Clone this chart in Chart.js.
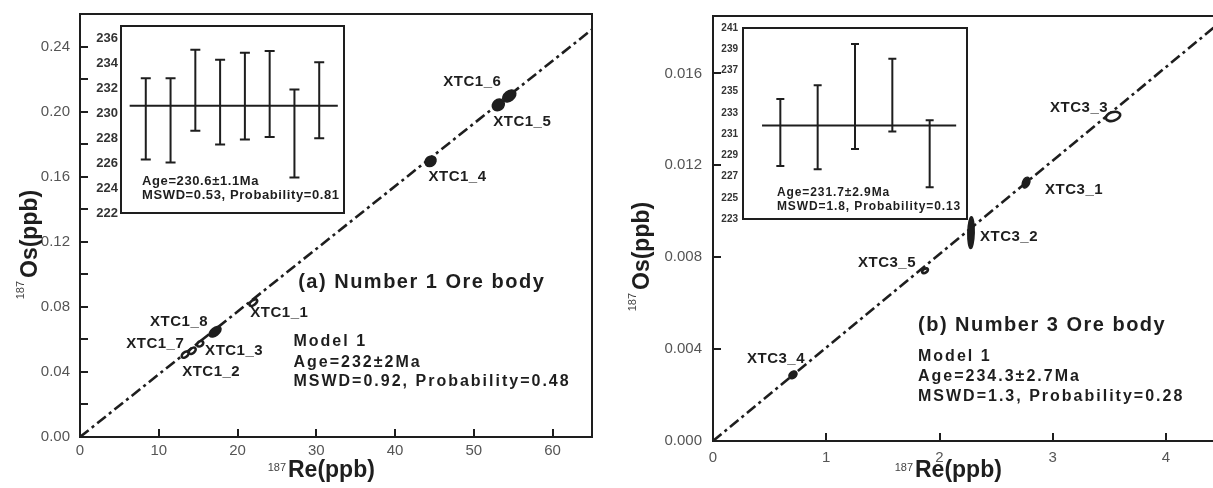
<!DOCTYPE html>
<html>
<head>
<meta charset="utf-8">
<script src="https://cdn.jsdelivr.net/npm/chart.js@4.4.1/dist/chart.umd.min.js"></script>
<style>
  html, body { margin: 0; padding: 0; background: #fff; overflow: hidden; }
  #wrap { position: relative; width: 1213px; height: 488px; overflow: hidden; }
  canvas { position: absolute; }
</style>
</head>
<body>
<div id="wrap">
  <canvas id="mainA" width="606" height="488" style="left:0;top:0"></canvas>
  <canvas id="mainB" width="648" height="488" style="left:606px;top:0"></canvas>
  <canvas id="insetA" width="265" height="207" style="left:85px;top:16px"></canvas>
  <canvas id="insetB" width="265" height="211" style="left:710px;top:18px"></canvas>
</div>
<script>
/* ---------- data: (a) Number 1 ore body ---------- */
const namesA = ["XTC1_1", "XTC1_2", "XTC1_3", "XTC1_4", "XTC1_5", "XTC1_6", "XTC1_7", "XTC1_8"];
const reA    = [22.0, 13.35, 15.25, 44.5, 53.1, 54.5, 14.25, 17.15];
const osA    = [0.0826, 0.0506, 0.0573, 0.1695, 0.2041, 0.2096, 0.0530, 0.0647];
const reErrA = [0.64, 0.6, 0.56, 0.78, 0.84, 0.91, 0.6, 0.83];
const osErrA = [0.0028, 0.0027, 0.0025, 0.00364, 0.00395, 0.00406, 0.0027, 0.0036];
const rhoA   = [0.41, 0.33, 0.24, 0.16, 0.15, 0.35, 0.33, 0.46];
const isoReA = [0, 65];
const isoOsA = [0, 0.2505];
const xTicksA = [0, 10, 20, 30, 40, 50, 60];
const yTicksA = [0, 0.02, 0.04, 0.06, 0.08, 0.10, 0.12, 0.14, 0.16, 0.18, 0.20, 0.22, 0.24];
const yLabelsA = ["0.00", "", "0.04", "", "0.08", "", "0.12", "", "0.16", "", "0.20", "", "0.24"];

// inset (a): model ages of single samples
const insetXA  = [1, 2, 3, 4, 5, 6, 7, 8];
const insetLoA = [226.3, 226.05, 228.6, 227.5, 227.9, 228.1, 224.85, 228.0];
const insetHiA = [232.8, 232.8, 235.1, 234.3, 234.85, 235.0, 231.9, 234.1];
const meanA = 230.6;
const insetTicksA = [222, 224, 226, 228, 230, 232, 234, 236];

/* ---------- data: (b) Number 3 ore body ---------- */
const namesB = ["XTC3_1", "XTC3_2", "XTC3_3", "XTC3_4", "XTC3_5"];
const reB    = [2.764, 2.278, 3.532, 0.706, 1.872];
const osB    = [0.01125, 0.00907, 0.01413, 0.00288, 0.00741];
const reErrB = [0.0397, 0.0336, 0.075, 0.0408, 0.037];
const osErrB = [0.00026, 0.00072, 0.00026, 0.000193, 0.00016];
const rhoB   = [0.3, 0.1, 0.25, 0.22, 0.3];
const isoReB = [0, 4.6];
const isoOsB = [0, 0.01872];
const xTicksB = [0, 1, 2, 3, 4];
const yTicksB = [0, 0.004, 0.008, 0.012, 0.016];
const yLabelsB = ["0.000", "0.004", "0.008", "0.012", "0.016"];

const insetXB  = [1, 2, 3, 4, 5];
const insetLoB = [228.0, 227.7, 229.6, 231.25, 226.0];
const insetHiB = [234.3, 235.6, 239.5, 238.1, 232.3];
const meanB = 231.8;
const insetTicksB = [223, 225, 227, 229, 231, 233, 235, 237, 239, 241];

/* ---------- helpers ---------- */
const INK = "#1e1e1e";
const FONT = 'Arial, "Liberation Sans", sans-serif';
Chart.defaults.font.family = FONT;

const pts = (xs, ys) => xs.map((x, i) => ({ x, y: ys[i] }));

// keep the layout from growing the chart area for label overhang
const noPad = (s) => { s.paddingTop = 0; s.paddingBottom = 0; s.paddingLeft = 0; s.paddingRight = 0; };

function txt(ctx, s, x, y, size, bold, spacing, color, align = "left", base = "middle") {
  ctx.font = `${bold ? "bold " : ""}${size}px ${FONT}`;
  ctx.letterSpacing = `${spacing}px`;
  ctx.fillStyle = color;
  ctx.textAlign = align;
  ctx.textBaseline = base;
  ctx.fillText(s, x, y);
  ctx.letterSpacing = "0px";
}

/* ---------- plugins ---------- */
const frame = {
  id: "frame",
  beforeDatasetsDraw(chart) {
    if (!chart.$inset) return;
    const { ctx, chartArea: a } = chart;
    ctx.save(); ctx.fillStyle = "#fff";
    ctx.fillRect(a.left, a.top, a.right - a.left, a.bottom - a.top);
    ctx.restore();
  },
  afterDatasetsDraw(chart) {
    const { ctx, chartArea: a } = chart;
    ctx.save();
    ctx.strokeStyle = INK; ctx.lineWidth = 2;
    ctx.strokeRect(a.left, a.top, a.right - a.left, a.bottom - a.top);
    ctx.restore();
  },
};

// error ellipses from 2-sigma errors and error correlation
const ellipses = (o) => ({
  id: "ellipses",
  afterDatasetsDraw(chart) {
    const { ctx, scales: { x, y } } = chart;
    ctx.save();
    o.re.forEach((re, i) => {
      const px = x.getPixelForValue(re), py = y.getPixelForValue(o.os[i]);
      const sx = Math.abs(x.getPixelForValue(re + o.reErr[i]) - px);
      const sy = Math.abs(y.getPixelForValue(o.os[i] + o.osErr[i]) - py);
      const a = sx * sx, d = sy * sy, c = -o.rho[i] * sx * sy;
      const m = (a + d) / 2, r = Math.sqrt(((a - d) / 2) ** 2 + c * c);
      const ang = 0.5 * Math.atan2(2 * c, a - d);
      const solid = o.solid[i];
      const inset = solid ? 0.6 : 1.3;
      ctx.beginPath();
      ctx.ellipse(px, py, Math.sqrt(m + r) - inset, Math.sqrt(Math.max(m - r, 1)) - inset, ang, 0, Math.PI * 2);
      ctx.fillStyle = solid ? INK : "#fff";
      ctx.fill();
      ctx.lineWidth = solid ? 1.5 : 2.6; ctx.strokeStyle = INK;
      ctx.stroke();
    });
    ctx.restore();
  },
});

const pointLabels = (o) => ({
  id: "pointLabels",
  afterDatasetsDraw(chart) {
    const { ctx, scales: { x, y } } = chart;
    ctx.save();
    o.names.forEach((n, i) => {
      const [dx, dy] = o.offsets[i];
      txt(ctx, n, x.getPixelForValue(o.re[i]) + dx, y.getPixelForValue(o.os[i]) + dy, 15, true, 0.5, INK);
    });
    ctx.restore();
  },
});

const notes = (items) => ({
  id: "notes",
  afterDraw(chart) {
    const { ctx, scales: { x, y } } = chart;
    ctx.save();
    items.forEach((t) => txt(ctx, t.text, x.getPixelForValue(t.x), y.getPixelForValue(t.y), t.size, true, t.sp, INK));
    ctx.restore();
  },
});

// 187Re / 187Os axis titles with small superscript mass number
const titles = (t) => ({
  id: "titles",
  afterDraw(chart) {
    const ctx = chart.ctx;
    ctx.save();
    txt(ctx, "Re(ppb)", t.xStart, t.xBase, 23, true, 0, INK, "left", "alphabetic");
    txt(ctx, "187", t.xStart - 2, t.xBase - 6, 11, false, 0, "#444", "right", "alphabetic");
    ctx.translate(t.yBase, t.yStart);
    ctx.rotate(-Math.PI / 2);
    txt(ctx, "Os(ppb)", 0, 0, 23, true, 0, INK, "left", "alphabetic");
    txt(ctx, "187", -3, -13, 11, false, 0, "#444", "right", "alphabetic");
    ctx.restore();
  },
});

const errorBars = (o) => ({
  id: "errorBars",
  afterDatasetsDraw(chart) {
    const { ctx, scales: { x, y } } = chart;
    ctx.save();
    ctx.strokeStyle = INK; ctx.lineWidth = 2;
    o.xs.forEach((v, i) => {
      const px = x.getPixelForValue(v);
      const y1 = y.getPixelForValue(o.lo[i]), y2 = y.getPixelForValue(o.hi[i]);
      ctx.beginPath();
      ctx.moveTo(px, y1); ctx.lineTo(px, y2);
      ctx.moveTo(px - o.cap, y1); ctx.lineTo(px + o.cap, y1);
      ctx.moveTo(px - o.cap, y2); ctx.lineTo(px + o.cap, y2);
      ctx.stroke();
    });
    ctx.restore();
  },
});

/* ---------- chart builders ---------- */
function isochron(id, o) {
  return new Chart(document.getElementById(id), {
    type: "scatter",
    data: {
      datasets: [
        { data: pts(o.re, o.os), pointRadius: 0 },
        {
          type: "line", data: pts(o.lineX, o.lineY), borderColor: INK, borderWidth: 2.6,
          borderDash: [11, 4, 3, 4], pointRadius: 0, fill: false,
        },
      ],
    },
    options: {
      responsive: false, animation: false,
      layout: { padding: o.pad },
      plugins: { legend: { display: false }, tooltip: { enabled: false } },
      scales: {
        x: {
          type: "linear", min: 0, max: o.xMax,
          afterBuildTicks: (s) => { s.ticks = o.xTicks.map((value) => ({ value })); },
          afterFit: (s) => { s.height = o.xH; noPad(s); },
          border: { display: false },
          grid: { drawOnChartArea: false, color: INK, lineWidth: 2, tickLength: -8 },
          ticks: {
            padding: o.xPad, color: "#555", font: { size: 15 }, maxRotation: 0, autoSkip: false,
            callback: (v, i) => String(o.xTicks[i]),
          },
        },
        y: {
          type: "linear", min: 0, max: o.yMax,
          afterBuildTicks: (s) => { s.ticks = o.yTicks.map((value) => ({ value })); },
          afterFit: (s) => { s.width = o.yW; noPad(s); },
          border: { display: false },
          grid: { drawOnChartArea: false, color: INK, lineWidth: 2, tickLength: -8 },
          ticks: {
            padding: o.yPad, color: "#555", font: { size: 15 }, autoSkip: false,
            callback: (v, i) => o.yLabels[i],
          },
        },
      },
    },
    plugins: [frame, ellipses(o), pointLabels(o), notes(o.notes), titles(o.titles)],
  });
}

function inset(id, o) {
  const chart = new Chart(document.getElementById(id), {
    type: "scatter",
    data: {
      datasets: [
        { data: o.xs.map((x, i) => ({ x, y: (o.lo[i] + o.hi[i]) / 2 })), pointRadius: 0 },
        {
          type: "line", data: [{ x: o.meanX[0], y: o.mean }, { x: o.meanX[1], y: o.mean }],
          borderColor: INK, borderWidth: 2, pointRadius: 0, fill: false,
        },
      ],
    },
    options: {
      responsive: false, animation: false,
      layout: { padding: o.pad },
      plugins: { legend: { display: false }, tooltip: { enabled: false } },
      scales: {
        x: { type: "linear", min: 0, max: o.xMax, display: false },
        y: {
          type: "linear", min: o.yMin, max: o.yMax,
          afterBuildTicks: (s) => { s.ticks = o.ticks.map((value) => ({ value })); },
          afterFit: (s) => { s.width = o.yW; noPad(s); },
          border: { display: false },
          grid: { drawOnChartArea: false, color: INK, lineWidth: 2, tickLength: -o.tl },
          ticks: {
            padding: o.yPad, color: "#333", font: { size: o.fs, weight: "bold" }, autoSkip: false,
            callback: (v, i) => String(o.ticks[i]),
          },
        },
      },
    },
    plugins: [frame, errorBars(o), notes(o.notes)],
  });
  chart.$inset = true;
  chart.draw();
  return chart;
}

/* ---------- bootstrap ---------- */
isochron("mainA", {
  re: reA, os: osA, reErr: reErrA, osErr: osErrA, rho: rhoA, names: namesA,
  solid: [false, false, false, true, true, true, false, true],
  offsets: [[-3, 10], [-3, 17], [5, 7], [-2, 16], [-5, 17], [-66, -14], [-66, -7], [-65, -10]],
  lineX: isoReA, lineY: isoOsA,
  xMax: 65, yMax: 0.26, xTicks: xTicksA, yTicks: yTicksA, yLabels: yLabelsA,
  pad: { left: 0, top: 14, right: 14, bottom: 0 }, xH: 51, yW: 80, xPad: 13, yPad: 18,
  notes: [
    { text: "(a) Number 1 Ore body", x: 27.7, y: 0.095, size: 20, sp: 1.5 },
    { text: "Model 1", x: 27.1, y: 0.0586, size: 16, sp: 2 },
    { text: "Age=232±2Ma", x: 27.1, y: 0.0456, size: 16, sp: 2 },
    { text: "MSWD=0.92, Probability=0.48", x: 27.1, y: 0.0339, size: 16, sp: 2 },
  ],
  titles: { xStart: 288, xBase: 477, yBase: 37, yStart: 278 },
});

isochron("mainB", {
  re: reB, os: osB, reErr: reErrB, osErr: osErrB, rho: rhoB, names: namesB,
  solid: [true, true, false, true, false],
  offsets: [[19, 7], [9, 4], [-63, -9], [-46, -16], [-67, -8]],
  lineX: isoReB, lineY: isoOsB,
  xMax: 4.6, yMax: 0.0185, xTicks: xTicksB, yTicks: yTicksB, yLabels: yLabelsB,
  pad: { left: 0, top: 16, right: 20, bottom: 0 }, xH: 47, yW: 107, xPad: 16, yPad: 19,
  notes: [
    { text: "(b) Number 3 Ore body", x: 1.81, y: 0.00501, size: 20, sp: 1.5 },
    { text: "Model 1", x: 1.81, y: 0.00366, size: 16, sp: 2 },
    { text: "Age=234.3±2.7Ma", x: 1.81, y: 0.00279, size: 16, sp: 2 },
    { text: "MSWD=1.3, Probability=0.28", x: 1.81, y: 0.00192, size: 16, sp: 2 },
  ],
  titles: { xStart: 309, xBase: 477, yBase: 43, yStart: 290 },
});

inset("insetA", {
  xs: insetXA, lo: insetLoA, hi: insetHiA, mean: meanA, meanX: [0.35, 8.75],
  xMax: 9, yMin: 222, yMax: 237, ticks: insetTicksA,
  pad: { left: 0, top: 10, right: 6, bottom: 10 }, yW: 36, yPad: 8, tl: 5, fs: 13, cap: 5,
  notes: [
    { text: "Age=230.6±1.1Ma", x: 0.85, y: 224.5, size: 13, sp: 0.6 },
    { text: "MSWD=0.53, Probability=0.81", x: 0.85, y: 223.45, size: 13, sp: 0.6 },
  ],
});

inset("insetB", {
  xs: insetXB, lo: insetLoB, hi: insetHiB, mean: meanB, meanX: [0.51, 5.71],
  xMax: 6, yMin: 223, yMax: 241, ticks: insetTicksB,
  pad: { left: 0, top: 10, right: 8, bottom: 10 }, yW: 33, yPad: 9, tl: 4, fs: 10, cap: 4,
  notes: [
    { text: "Age=231.7±2.9Ma", x: 0.91, y: 225.5, size: 12, sp: 0.9 },
    { text: "MSWD=1.8, Probability=0.13", x: 0.91, y: 224.17, size: 12, sp: 0.9 },
  ],
});
</script>
</body>
</html>
